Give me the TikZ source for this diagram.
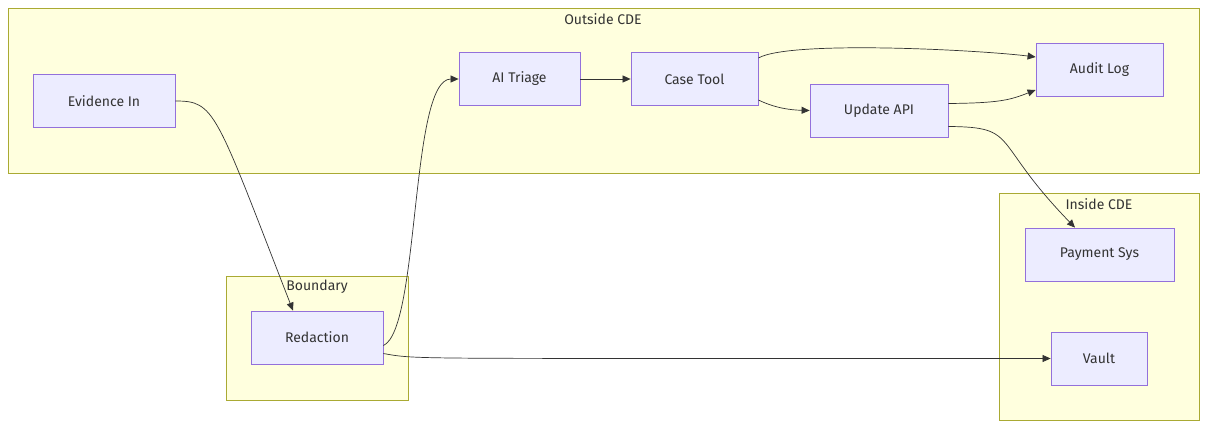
\documentclass[tikz,border=0pt]{standalone}
\usepackage{fontspec}
\setmainfont{Fira Sans}
\usetikzlibrary{arrows.meta}
\definecolor{grpfill}{HTML}{FFFFDE}
\definecolor{grpline}{HTML}{AAAA33}
\definecolor{boxfill}{HTML}{ECECFF}
\definecolor{boxline}{HTML}{9370DB}
\definecolor{edge}{HTML}{333333}
\tikzset{
  group/.style={draw=grpline, fill=grpfill, line width=0.8pt},
  grouplabel/.style={text=edge, font=\fontsize{14}{16}\selectfont},
  box/.style={draw=boxline, fill=boxfill, line width=0.8pt, text=edge,
    font=\fontsize{14}{16}\selectfont, minimum height=53pt, inner sep=0pt},
  flow/.style={draw=edge, line width=0.7pt, -{Triangle[length=8pt,width=7pt]}}
}
\begin{document}
\begin{tikzpicture}[x=1pt, y=-1pt]
    \useasboundingbox (0,0) rectangle (1208,429);
    % Groups
    \draw[group] (8,8) rectangle (1199,173);
    \node[grouplabel] (outlbl) at (603,19) {Outside CDE};
    \draw[group] (226,276) rectangle (408,400);
    \node[grouplabel] (bndlbl) at (317,287) {Boundary};
    \draw[group] (999,193) rectangle (1199,420);
    \node[grouplabel] (inlbl) at (1099,204) {Inside CDE};

    % Nodes
    \node[box, minimum width=142pt] (evidence) at (104,101) {Evidence In};
    \node[box, minimum width=121pt] (triage) at (519.5,79) {AI Triage};
    \node[box, minimum width=127pt] (casetool) at (694.5,79) {Case Tool};
    \node[box, minimum width=127pt] (audit) at (1099.5,70) {Audit Log};
    \node[box, minimum width=138pt] (update) at (879,110.5) {Update API};
    \node[box, minimum width=149pt] (payment) at (1099.5,254.5) {Payment Sys};
    \node[box, minimum width=96pt] (vault) at (1099,358.5) {Vault};
    \node[box, minimum width=132pt] (redaction) at (317,337.5) {Redaction};

    % Edges
    \draw[flow] (evidence.east) .. controls (215,101) and (215,110) .. (redaction.north -| 293,0);
    \draw[flow] ([yshift=-8pt]redaction.east) .. controls (420,329) and (410,79) .. (triage.west);
    \draw[flow] (triage.east) -- (casetool.west);
    \draw[flow] ([yshift=21pt]casetool.east) .. controls (790,40) and (980,50) .. ([yshift=13pt]audit.west);
    \draw[flow] ([yshift=-21pt]casetool.east) .. controls (775,108) and (790,110) .. (update.west);
    \draw[flow] ([yshift=7pt]update.east) .. controls (1000,103) and (1010,100) .. ([yshift=-20pt]audit.west);
    \draw[flow] ([yshift=-16pt]update.east) .. controls (1020,127) and (990,140) .. (payment.north -| 1075,0);
    \draw[flow] ([yshift=-16pt]redaction.east) .. controls (420,360) and (400,358) .. (vault.west);
\end{tikzpicture}
\end{document}
